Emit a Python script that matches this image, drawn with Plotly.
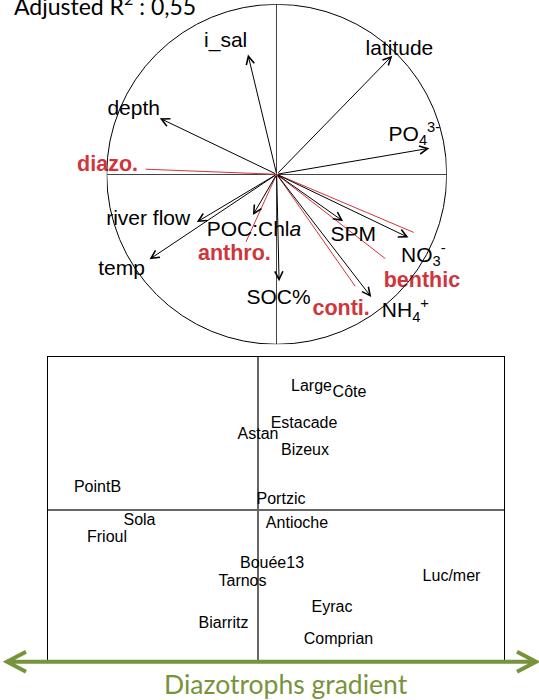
import plotly.graph_objects as go

# environmental variables: arrow tips on the correlation circle
env_names = ["i_sal", "depth", "latitude", "PO<sub>4</sub><sup>3-</sup>", "river flow", "temp",
             "POC:Chl<i>a</i>", "SOC%", "SPM", "NO<sub>3</sub><sup>-</sup>", "NH<sub>4</sub><sup>+</sup>"]
env_x = [-0.169, -0.688, 0.680, 0.898, -0.470, -0.748, -0.140, 0.014, 0.391, 0.775, 0.556]
env_y = [0.704, 0.330, 0.698, 0.153, -0.281, -0.500, -0.240, -0.629, -0.276, -0.372, -0.722]
env_lab_x = [-0.300, -0.841, 0.722, 0.810, -0.756, -0.913, -0.134, 0.011, 0.450, 0.863, 0.757]
env_lab_y = [0.777, 0.382, 0.730, 0.228, -0.267, -0.562, -0.332, -0.733, -0.362, -0.483, -0.810]

# diazotroph groups (red lines)
grp_names = ["diazo.", "anthro.", "phyto.", "benthic", "conti."]
grp_x = [-0.771, -0.181, 0.806, 0.639, 0.462]
grp_y = [0.030, -0.398, -0.342, -0.496, -0.659]
grp_lab_x = [-0.995, -0.249, 1.028, 0.854, 0.379]
grp_lab_y = [0.051, -0.474, -0.362, -0.633, -0.798]

# site scores
site_names = ["Large", "Côte", "Estacade", "Astan", "Bizeux", "PointB", "Portzic", "Sola",
              "Antioche", "Frioul", "Bouée13", "Tarnos", "Luc/mer", "Eyrac", "Biarritz", "Comprian"]
site_x = [0.535, 0.915, 0.46, 0.00, 0.47, -1.605, 0.23, -1.185, 0.39, -1.51, 0.14, -0.155, 1.935, 0.74, -0.345, 0.805]
site_y = [1.23, 1.17, 0.86, 0.75, 0.59, 0.22, 0.10, -0.11, -0.14, -0.28, -0.54, -0.72, -0.67, -0.98, -1.14, -1.30]

W, H = 539, 700
RED = "#D0353B"
GREEN = "#77933C"
ARIAL = "Liberation Sans, Arial, sans-serif"

fig = go.Figure()

# red group lines
lx, ly = [], []
for x, y in zip(grp_x, grp_y):
    lx += [0, x, None]
    ly += [0, y, None]
fig.add_trace(go.Scatter(x=lx, y=ly, mode="lines", line=dict(color=RED, width=1),
                         xaxis="x", yaxis="y", hoverinfo="skip"))

fig.add_trace(go.Scatter(x=env_lab_x, y=env_lab_y, text=env_names, mode="text",
                         textposition="middle center", cliponaxis=False,
                         textfont=dict(family=ARIAL, size=21, color="black"),
                         xaxis="x", yaxis="y"))
fig.add_trace(go.Scatter(x=grp_lab_x, y=grp_lab_y, text=grp_names, mode="text",
                         textposition="middle center", cliponaxis=False,
                         textfont=dict(family=ARIAL, size=21.5, color=RED, weight="bold"),
                         xaxis="x", yaxis="y"))

fig.add_trace(go.Scatter(x=site_x, y=site_y, text=site_names, mode="text",
                         textposition="middle center", cliponaxis=False,
                         textfont=dict(family=ARIAL, size=16, color="black"),
                         xaxis="x2", yaxis="y2"))

# arrows for environmental variables
for x, y in zip(env_x, env_y):
    fig.add_annotation(x=x, y=y, ax=0, ay=0, xref="x", yref="y", axref="x", ayref="y",
                       text="", showarrow=True, arrowhead=5, arrowsize=1.6,
                       arrowwidth=1, arrowcolor="black")

# unit circle
fig.add_shape(type="circle", xref="x", yref="y", x0=-1, y0=-1, x1=1, y1=1,
              line=dict(color="black", width=1))

# green gradient arrow
gy = 1 - 661.7 / H
xl, xr = 7 / W, 536 / W
dx, dy = 19 / W, 10 / H
fig.add_shape(type="path", xref="paper", yref="paper",
              path=f"M{xl},{gy} L{xr},{gy} M{xl + dx},{gy + dy} L{xl},{gy} L{xl + dx},{gy - dy} "
                   f"M{xr - dx},{gy + dy} L{xr},{gy} L{xr - dx},{gy - dy}",
              line=dict(color=GREEN, width=4), layer="above")

fig.add_annotation(x=12 / W, y=1 - 22 / H, xref="paper", yref="paper", xanchor="left", yanchor="bottom",
                   text="Adjusted R<sup>2</sup> : 0,55", showarrow=False,
                   font=dict(family="Lato, Open Sans, sans-serif", size=23, color="black"))
fig.add_annotation(x=286 / W, y=-2 / H, xref="paper", yref="paper", xanchor="center", yanchor="bottom",
                   text="Diazotrophs gradient", showarrow=False,
                   font=dict(family="Lato, Open Sans, sans-serif", size=26.5, color=GREEN))

blank = dict(showgrid=False, showticklabels=False, ticks="", fixedrange=True)
fig.update_layout(
    width=W, height=H, margin=dict(l=0, r=0, t=0, b=0),
    plot_bgcolor="white", paper_bgcolor="white", showlegend=False,
    xaxis=dict(domain=[106.7 / W, 446.7 / W], range=[-1, 1], zeroline=True,
               zerolinecolor="#444", zerolinewidth=1.2, **blank),
    yaxis=dict(domain=[1 - 344.3 / H, 1 - 4.3 / H], range=[-1, 1], zeroline=True,
               zerolinecolor="#444", zerolinewidth=1.2, **blank),
    xaxis2=dict(domain=[48 / W, 504 / W], range=[-2.10, 2.46], zeroline=True,
                zerolinecolor="#666", zerolinewidth=1.5, showline=True, mirror=True,
                linecolor="black", linewidth=1, anchor="y2", **blank),
    yaxis2=dict(domain=[1 - 660 / H, 1 - 357 / H], range=[-1.50, 1.53], zeroline=True,
                zerolinecolor="#666", zerolinewidth=1.5, showline=True, mirror=True,
                linecolor="black", linewidth=1, anchor="x2", **blank),
)

fig.write_html("out.html", config={"displayModeBar": False},
               post_script="document.body.style.margin='0';")
